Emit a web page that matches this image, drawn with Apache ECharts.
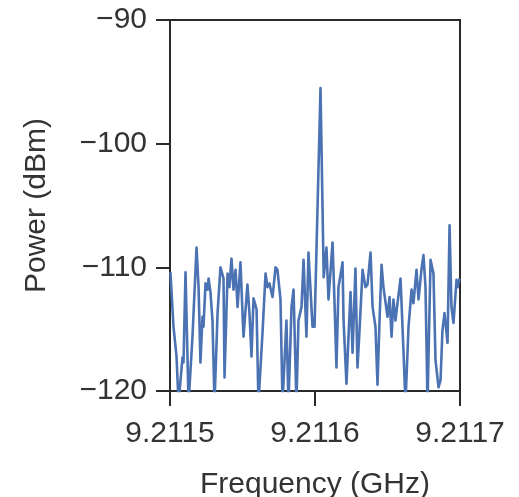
<!DOCTYPE html>
<html><head><meta charset="utf-8">
<script src="https://cdn.jsdelivr.net/npm/echarts@6/dist/echarts.min.js"></script>
<style>html,body{margin:0;padding:0;background:#fff}#c{width:519px;height:497px}</style>
</head><body><div id="c"></div>
<script>
var xTicks = [9.2115, 9.2116, 9.2117];
var yTicks = [-90, -100, -110, -120];
var freqGHz = [9.2115003,9.2115024,9.2115045,9.2115059,9.2115086,9.2115093,9.2115107,9.2115128,9.2115155,9.2115183,9.2115197,9.2115210,9.2115224,9.2115231,9.2115245,9.2115259,9.2115266,9.2115279,9.2115293,9.2115307,9.2115328,9.2115348,9.2115369,9.2115376,9.2115397,9.2115410,9.2115424,9.2115438,9.2115452,9.2115466,9.2115486,9.2115500,9.2115507,9.2115534,9.2115548,9.2115562,9.2115576,9.2115597,9.2115610,9.2115638,9.2115659,9.2115672,9.2115686,9.2115707,9.2115728,9.2115741,9.2115762,9.2115776,9.2115803,9.2115817,9.2115838,9.2115852,9.2115872,9.2115886,9.2115907,9.2115921,9.2115941,9.2115955,9.2115983,9.2115997,9.2116038,9.2116060,9.2116079,9.2116093,9.2116121,9.2116134,9.2116148,9.2116162,9.2116190,9.2116197,9.2116217,9.2116231,9.2116245,9.2116259,9.2116279,9.2116293,9.2116307,9.2116328,9.2116348,9.2116362,9.2116383,9.2116397,9.2116417,9.2116431,9.2116445,9.2116459,9.2116472,9.2116500,9.2116514,9.2116528,9.2116541,9.2116555,9.2116569,9.2116590,9.2116610,9.2116624,9.2116645,9.2116666,9.2116679,9.2116700,9.2116714,9.2116734,9.2116748,9.2116762,9.2116776,9.2116797,9.2116817,9.2116831,9.2116852,9.2116866,9.2116879,9.2116893,9.2116914,9.2116928,9.2116941,9.2116955,9.2116976,9.2116983,9.2116997];
var powerDBm = [-110.4,-114.8,-117.2,-121,-117.3,-117.7,-110.4,-121,-115.6,-108.4,-111.6,-117.7,-114.0,-114.8,-111.3,-111.8,-110.9,-112.0,-114.3,-121,-113.7,-110.0,-110.9,-118.9,-110.5,-111.6,-109.3,-111.8,-110.2,-113.2,-109.6,-113.7,-115.6,-111.4,-113.7,-117.2,-112.5,-113.4,-121,-115.3,-110.5,-111.6,-111.3,-112.4,-110.0,-110.2,-112.6,-121,-114.3,-121,-113.2,-111.8,-121,-114.3,-113.2,-109.4,-115.6,-108.8,-114.8,-114.8,-95.5,-110.8,-108.4,-112.6,-108.0,-112.6,-118.1,-111.6,-109.6,-114.3,-119.4,-115.6,-112.0,-116.9,-110.1,-118.1,-115.1,-110.2,-111.6,-111.4,-108.8,-113.2,-114.8,-119.5,-114.3,-109.8,-111.6,-114.0,-112.4,-115.6,-112.6,-114.3,-112.9,-110.9,-116.7,-121,-114.8,-111.8,-112.9,-110.2,-112.6,-110.2,-109.0,-111.6,-121,-109.4,-110.5,-117.5,-119.7,-119.1,-115.1,-113.7,-116.1,-106.6,-113.2,-114.5,-111.0,-111.6,-110.9];
var xTitle = 'Frequency (GHz)';
var yTitle = 'Power (dBm)';

var data = [];
var n = Math.min(freqGHz.length, powerDBm.length);
for (var i = 0; i < n; i++) data.push([freqGHz[i], powerDBm[i]]);

var font = 'Liberation Sans, Arial, Helvetica, sans-serif';
var txt = '#333';
var chart = echarts.init(document.getElementById('c'), null, {renderer: 'canvas'});
chart.setOption({
  animation: false,
  grid: {left: 170, right: 59, top: 20, bottom: 106, outerBoundsMode: 'none', containLabel: false,
    show: true, borderColor: '#2a2a2a', borderWidth: 2, backgroundColor: 'transparent'},
  xAxis: {
    type: 'value', min: xTicks[0], max: xTicks[xTicks.length - 1], interval: 0.0001,
    name: xTitle, nameLocation: 'middle', nameGap: 79,
    nameTextStyle: {fontFamily: font, fontSize: 30, color: txt},
    axisLine: {show: true, lineStyle: {color: '#2a2a2a', width: 2}},
    axisTick: {show: true, inside: false, length: 15, lineStyle: {color: '#2a2a2a', width: 2}},
    axisLabel: {margin: 28, fontFamily: font, fontSize: 30, color: txt,
      formatter: function (v) { return v.toFixed(4); }},
    splitLine: {show: false}
  },
  yAxis: {
    type: 'value', min: -120, max: -90, interval: 10,
    name: yTitle, nameLocation: 'middle', nameGap: 118, nameRotate: 90,
    nameTextStyle: {fontFamily: font, fontSize: 30, color: txt},
    axisLine: {show: true, lineStyle: {color: '#2a2a2a', width: 2}},
    axisTick: {show: true, inside: false, length: 14, lineStyle: {color: '#2a2a2a', width: 2}},
    axisLabel: {margin: 23, fontFamily: font, fontSize: 30, color: txt,
      formatter: function (v) { return (v < 0 ? '\u2212' : '') + Math.abs(v); }},
    splitLine: {show: false}
  },
  series: [{
    type: 'line', data: data, symbol: 'none', clip: true,
    lineStyle: {color: '#4b72b2', width: 2.6, join: 'round'}
  }]
});
</script></body></html>
